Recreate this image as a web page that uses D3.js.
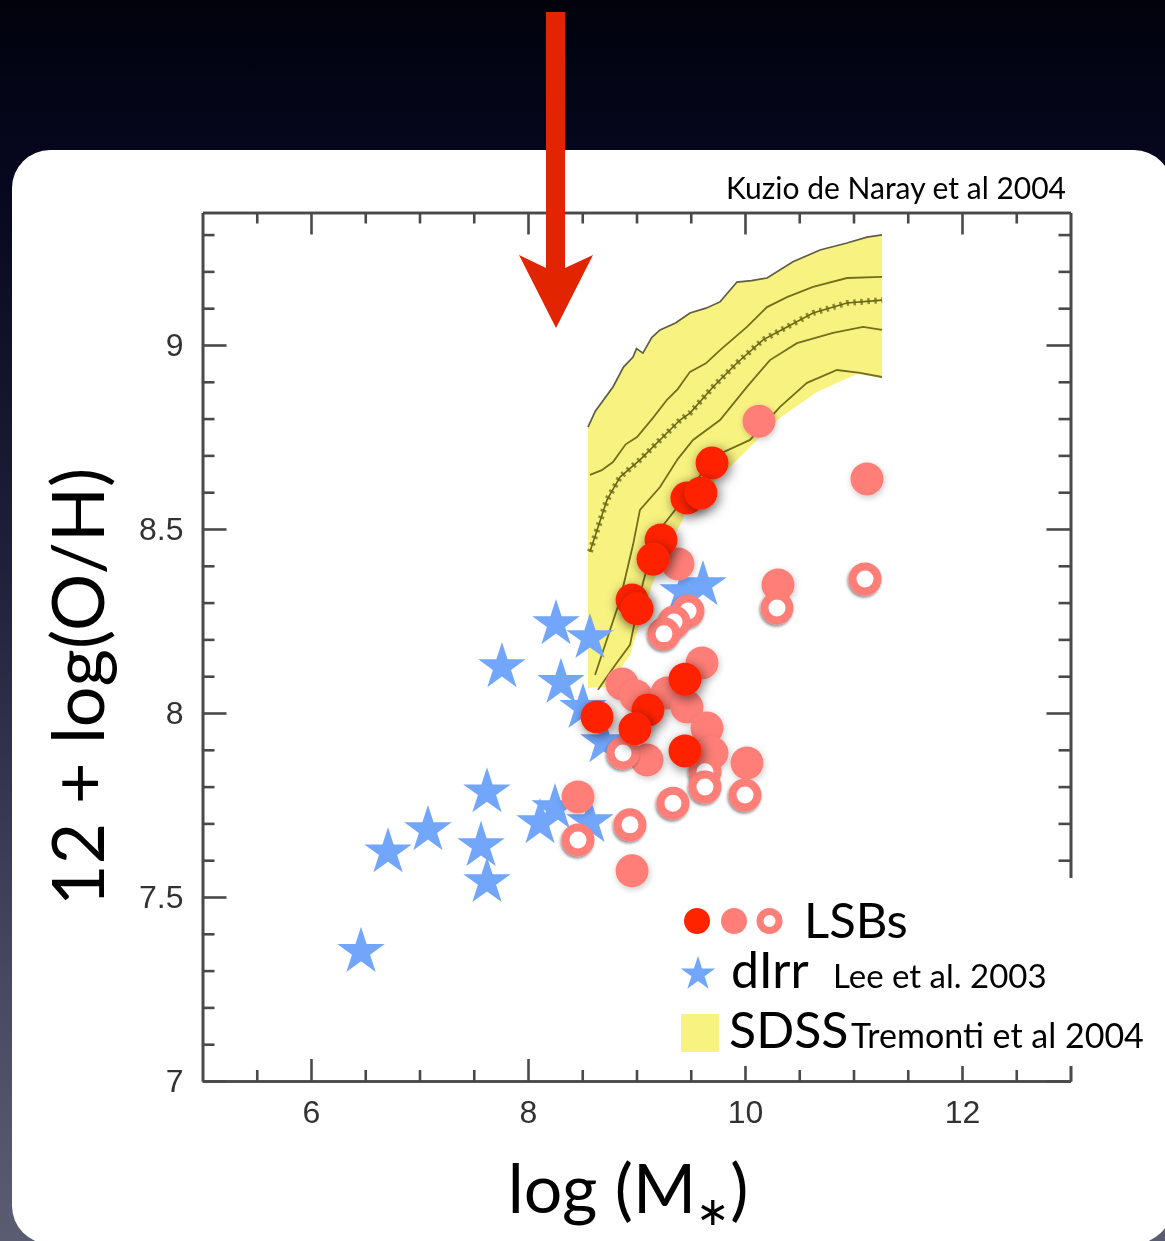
<!DOCTYPE html>
<html>
<head>
<meta charset="utf-8">
<script src="https://cdn.jsdelivr.net/npm/d3@7"></script>
<style>
  html, body { margin: 0; padding: 0; background: #02030f; }
  svg { display: block; }
</style>
</head>
<body>
<script>
// ---- data: log stellar mass vs 12 + log(O/H) ----
// LSB galaxies, three sub-samples
const lsbDark = [
  [9.696, 8.679], [9.465, 8.584], [9.594, 8.598], [9.226, 8.470], [9.152, 8.418],
  [8.959, 8.307], [9.005, 8.283], [9.447, 8.092], [8.636, 7.989], [9.106, 8.008],
  [8.986, 7.957], [9.447, 7.897]
];
const lsbLight = [
  [10.129, 8.793], [11.124, 8.636], [10.304, 8.348], [9.382, 8.405], [8.866, 8.079],
  [8.995, 8.046], [9.604, 8.136], [9.281, 8.054], [9.465, 8.016], [9.650, 7.959],
  [9.696, 7.891], [9.097, 7.872], [10.018, 7.864], [8.461, 7.772], [8.959, 7.571]
];
const lsbOpen = [
  [11.106, 8.364], [10.295, 8.285], [9.475, 8.277], [9.346, 8.247], [9.253, 8.215],
  [8.876, 7.891], [9.631, 7.840], [9.631, 7.799], [9.336, 7.755], [10.000, 7.777],
  [8.940, 7.696], [8.461, 7.655]
];
// dwarf irregulars (Lee et al. 2003)
const dIrr = [
  [6.461, 7.351], [6.710, 7.622], [7.078, 7.682], [7.622, 7.785], [7.567, 7.639],
  [7.622, 7.541], [7.760, 8.125], [8.258, 8.242], [8.571, 8.204], [8.304, 8.082],
  [8.507, 8.014], [8.700, 7.921], [8.249, 7.742], [8.111, 7.701], [8.571, 7.704],
  [9.429, 8.329], [9.613, 8.348]
];
// SDSS mass-metallicity relation (Tremonti et al. 2004): band edges and contours
const sdssUpper = [
  [8.553, 8.777], [8.620, 8.820], [8.783, 8.886], [8.880, 8.940], [8.968, 8.967],
  [9.000, 8.990], [9.059, 8.978], [9.140, 9.020], [9.217, 9.041], [9.360, 9.060],
  [9.493, 9.087], [9.640, 9.100], [9.770, 9.117], [9.926, 9.171], [10.060, 9.175],
  [10.203, 9.182], [10.442, 9.226], [10.691, 9.258], [10.940, 9.277], [11.124, 9.293],
  [11.263, 9.299]
];
const sdssLower = [
  [8.553, 8.068], [8.737, 8.071], [8.940, 8.158], [9.143, 8.348], [9.290, 8.457],
  [9.401, 8.511], [9.512, 8.579], [9.770, 8.641], [10.046, 8.723], [10.323, 8.802],
  [10.664, 8.872], [11.032, 8.921], [11.263, 8.910]
];
const sdssP84 = [
  [8.571, 8.647], [8.680, 8.660], [8.783, 8.682], [8.900, 8.730], [9.005, 8.750],
  [9.152, 8.802], [9.281, 8.851], [9.380, 8.880], [9.493, 8.927], [9.640, 8.950],
  [9.770, 8.986], [10.018, 9.049], [10.203, 9.103], [10.387, 9.130], [10.627, 9.158],
  [10.940, 9.182], [11.263, 9.185]
];
const sdssMedian = [
  [8.571, 8.438], [8.728, 8.579], [8.848, 8.641], [9.032, 8.688], [9.244, 8.750],
  [9.401, 8.796], [9.493, 8.815], [9.705, 8.886], [9.926, 8.951], [10.166, 9.014],
  [10.387, 9.049], [10.627, 9.087], [10.940, 9.114], [11.263, 9.122]
];
const sdssP16 = [
  [8.618, 8.103], [8.848, 8.307], [8.968, 8.457], [9.032, 8.552], [9.217, 8.614],
  [9.380, 8.690], [9.521, 8.742], [9.770, 8.796], [10.018, 8.886], [10.230, 8.959],
  [10.479, 9.005], [10.811, 9.033], [11.088, 9.049], [11.263, 9.041]
];
const sdssP02 = [
  [8.645, 8.063], [8.802, 8.130], [8.940, 8.185], [9.059, 8.353], [9.189, 8.489],
  [9.429, 8.579], [9.705, 8.696], [10.046, 8.742], [10.323, 8.832], [10.571, 8.897],
  [10.848, 8.932], [11.060, 8.924], [11.263, 8.913]
];

// axis ticks
const xMajor = [6, 8, 10, 12];
const xMinor = [5.5, 6.5, 7, 7.5, 8.5, 9, 9.5, 10.5, 11, 11.5, 12.5];
const yMajor = [7, 7.5, 8, 8.5, 9];
const yMinor = d3.range(7.1, 9.36, 0.1).map(v => +v.toFixed(1)).filter(v => !yMajor.includes(v));
const xTickLabels = ["6", "8", "10", "12"];
const yTickLabels = ["7", "7.5", "8", "8.5", "9"];

// ---- layout ----
const W = 1165, H = 1241;
const svg = d3.select("body").append("svg").attr("width", W).attr("height", H);
const defs = svg.append("defs");

const bg = defs.append("linearGradient").attr("id", "bg").attr("x1", 0).attr("y1", 0).attr("x2", 0).attr("y2", 1);
[[0, "#01020c"], [0.15, "#070820"], [0.45, "#1d2038"], [0.8, "#474a62"], [1, "#5a5d72"]]
  .forEach(([o, c]) => bg.append("stop").attr("offset", o).attr("stop-color", c));

const shDark = defs.append("filter").attr("id", "shDark").attr("x", "-70%").attr("y", "-70%").attr("width", "240%").attr("height", "240%");
shDark.append("feDropShadow").attr("dx", 2).attr("dy", 3).attr("stdDeviation", 6)
  .attr("flood-color", "#000").attr("flood-opacity", 0.55);
const shLight = defs.append("filter").attr("id", "shLight").attr("x", "-60%").attr("y", "-60%").attr("width", "220%").attr("height", "220%");
shLight.append("feDropShadow").attr("dx", 1).attr("dy", 2).attr("stdDeviation", 3)
  .attr("flood-color", "#000").attr("flood-opacity", 0.22);
const shRing = defs.append("filter").attr("id", "shRing").attr("x", "-60%").attr("y", "-60%").attr("width", "220%").attr("height", "220%");
shRing.append("feDropShadow").attr("dx", -1).attr("dy", 2).attr("stdDeviation", 1.5)
  .attr("flood-color", "#000").attr("flood-opacity", 0.45);
const soft = defs.append("filter").attr("id", "soft");
soft.append("feGaussianBlur").attr("stdDeviation", 0.55);

svg.append("rect").attr("width", W).attr("height", H).attr("fill", "url(#bg)");
svg.append("rect").attr("x", 12).attr("y", 150).attr("width", 1160).attr("height", 1094)
  .attr("rx", 38).attr("fill", "#ffffff");

const x = d3.scaleLinear().domain([5, 13]).range([202.5, 1070.5]);
const y = d3.scaleLinear().domain([7, 9.36]).range([1081, 212.5]);

const line = d3.line().x(d => x(d[0])).y(d => y(d[1]));

// SDSS band
const band = sdssUpper.concat(sdssLower.slice().reverse());
svg.append("path").attr("d", line(band) + "Z").attr("fill", "#f8f380");
const contours = svg.append("g").attr("fill", "none").attr("filter", "url(#soft)");
contours.append("path").attr("d", line(sdssUpper)).attr("stroke", "#5f5d45").attr("stroke-width", 1.7);
[sdssP84, sdssP16, sdssP02].forEach(c =>
  contours.append("path").attr("d", line(c)).attr("stroke", "#746e1c").attr("stroke-width", 1.8));
// median with beaded markers along it
contours.append("path").attr("d", line(sdssMedian)).attr("stroke", "#6a6516").attr("stroke-width", 1.6);
contours.append("path").attr("d", line(sdssMedian)).attr("stroke", "#6a6516").attr("stroke-width", 6)
  .attr("stroke-dasharray", "2.5 4.5").attr("opacity", 0.75);

// axes (frame with inward ticks)
const axes = svg.append("g").attr("filter", "url(#soft)");
const styleAxis = g => {
  g.select(".domain").attr("stroke", "#4a4a4a").attr("stroke-width", 2.6);
  g.selectAll(".tick line").attr("stroke", "#4a4a4a").attr("stroke-width", 2.6);
  g.selectAll(".tick text").attr("fill", "#333").attr("font-family", "Liberation Sans, Arial, sans-serif").attr("font-size", 32);
};
axes.append("g").attr("transform", `translate(0,${y(7)})`)
  .call(d3.axisBottom(x).tickValues(xMinor).tickSize(-11).tickSizeOuter(0).tickFormat("")).call(styleAxis);
axes.append("g").attr("transform", `translate(0,${y(7)})`)
  .call(d3.axisBottom(x).tickValues(xMajor).tickSize(-22).tickSizeOuter(0).tickPadding(19)
    .tickFormat((d, i) => xTickLabels[i])).call(styleAxis);
axes.append("g").attr("transform", `translate(0,${y(9.36)})`)
  .call(d3.axisTop(x).tickValues(xMinor).tickSize(-11).tickSizeOuter(0).tickFormat("")).call(styleAxis);
axes.append("g").attr("transform", `translate(0,${y(9.36)})`)
  .call(d3.axisTop(x).tickValues(xMajor).tickSize(-22).tickSizeOuter(0).tickFormat("")).call(styleAxis);
axes.append("g").attr("transform", `translate(${x(5)},0)`)
  .call(d3.axisLeft(y).tickValues(yMinor).tickSize(-12).tickSizeOuter(0).tickFormat("")).call(styleAxis);
axes.append("g").attr("transform", `translate(${x(5)},0)`)
  .call(d3.axisLeft(y).tickValues(yMajor).tickSize(-24).tickSizeOuter(0).tickPadding(19)
    .tickFormat((d, i) => yTickLabels[i])).call(styleAxis);
axes.append("g").attr("transform", `translate(${x(13)},0)`)
  .call(d3.axisRight(y).tickValues(yMinor).tickSize(-12).tickSizeOuter(0).tickFormat("")).call(styleAxis);
axes.append("g").attr("transform", `translate(${x(13)},0)`)
  .call(d3.axisRight(y).tickValues(yMajor).tickSize(-24).tickSizeOuter(0).tickFormat("")).call(styleAxis);

// stars
const starPath = d3.symbol().type(d3.symbolStar).size(700);
svg.append("g").selectAll("path").data(dIrr).join("path")
  .attr("d", starPath).attr("transform", d => `translate(${x(d[0])},${y(d[1])})`)
  .attr("fill", "#72a6fb");

// LSBs
svg.append("g").selectAll("circle").data(lsbLight).join("circle")
  .attr("cx", d => x(d[0])).attr("cy", d => y(d[1])).attr("r", 16.5)
  .attr("fill", "#ff7f78").attr("filter", "url(#shLight)");
svg.append("g").selectAll("circle").data(lsbOpen).join("circle")
  .attr("cx", d => x(d[0])).attr("cy", d => y(d[1])).attr("r", 12.5)
  .attr("fill", "#ffffff").attr("stroke", "#ff7f78").attr("stroke-width", 8).attr("filter", "url(#shRing)");
svg.append("g").selectAll("circle").data(lsbDark).join("circle")
  .attr("cx", d => x(d[0])).attr("cy", d => y(d[1])).attr("r", 16.5)
  .attr("fill", "#ff2300").attr("filter", "url(#shDark)");

// legend (white panel hides the lower part of the right frame)
svg.append("rect").attr("x", 665).attr("y", 878).attr("width", 420).attr("height", 188).attr("fill", "#ffffff");
const lg = svg.append("g").attr("font-family", "Lato, 'Open Sans', sans-serif").attr("fill", "#000");
lg.append("circle").attr("cx", 697).attr("cy", 921).attr("r", 13).attr("fill", "#ff2300");
lg.append("circle").attr("cx", 734).attr("cy", 921).attr("r", 13).attr("fill", "#ff7f78");
lg.append("circle").attr("cx", 769.5).attr("cy", 921).attr("r", 9.5).attr("fill", "#fff")
  .attr("stroke", "#ff7f78").attr("stroke-width", 7);
lg.append("text").attr("x", 804).attr("y", 938).attr("font-size", 49).text("LSBs");
lg.append("path").attr("d", d3.symbol().type(d3.symbolStar).size(370)).attr("transform", "translate(698,974)")
  .attr("fill", "#72a6fb");
lg.append("text").attr("x", 731).attr("y", 988).attr("font-size", 50).text("dIrr");
lg.append("text").attr("x", 833).attr("y", 988).attr("font-size", 33).text("Lee et al. 2003");
lg.append("rect").attr("x", 681).attr("y", 1014).attr("width", 38).attr("height", 38).attr("fill", "#f8f380");
lg.append("text").attr("x", 729).attr("y", 1048).attr("font-size", 50).text("SDSS");
lg.append("text").attr("x", 851).attr("y", 1048).attr("font-size", 34).text("Tremonti et al 2004");

// title and axis titles
const tx = svg.append("g").attr("font-family", "Lato, 'Open Sans', sans-serif").attr("fill", "#000");
tx.append("text").attr("x", 1066).attr("y", 199).attr("text-anchor", "end").attr("font-size", 30)
  .text("Kuzio de Naray et al 2004");
tx.append("text").attr("transform", "translate(104,687) rotate(-90)").attr("text-anchor", "middle")
  .attr("font-size", 72).text("12 + log(O/H)");
const xl = tx.append("text").attr("x", 628).attr("y", 1213).attr("text-anchor", "middle").attr("font-size", 68);
xl.append("tspan").text("log (M");
xl.append("tspan").attr("dy", 12).attr("font-size", 40).text("\u2217");
xl.append("tspan").attr("dy", -12).text(")");

// red arrow pointing down into the plot
const arrow = svg.append("g").attr("fill", "#e22400");
arrow.append("rect").attr("x", 546).attr("y", 12).attr("width", 19).attr("height", 260);
arrow.append("path").attr("d", "M546,268 L519,255 L556,328 L593,255 L565,268 Z");
</script>
</body>
</html>
